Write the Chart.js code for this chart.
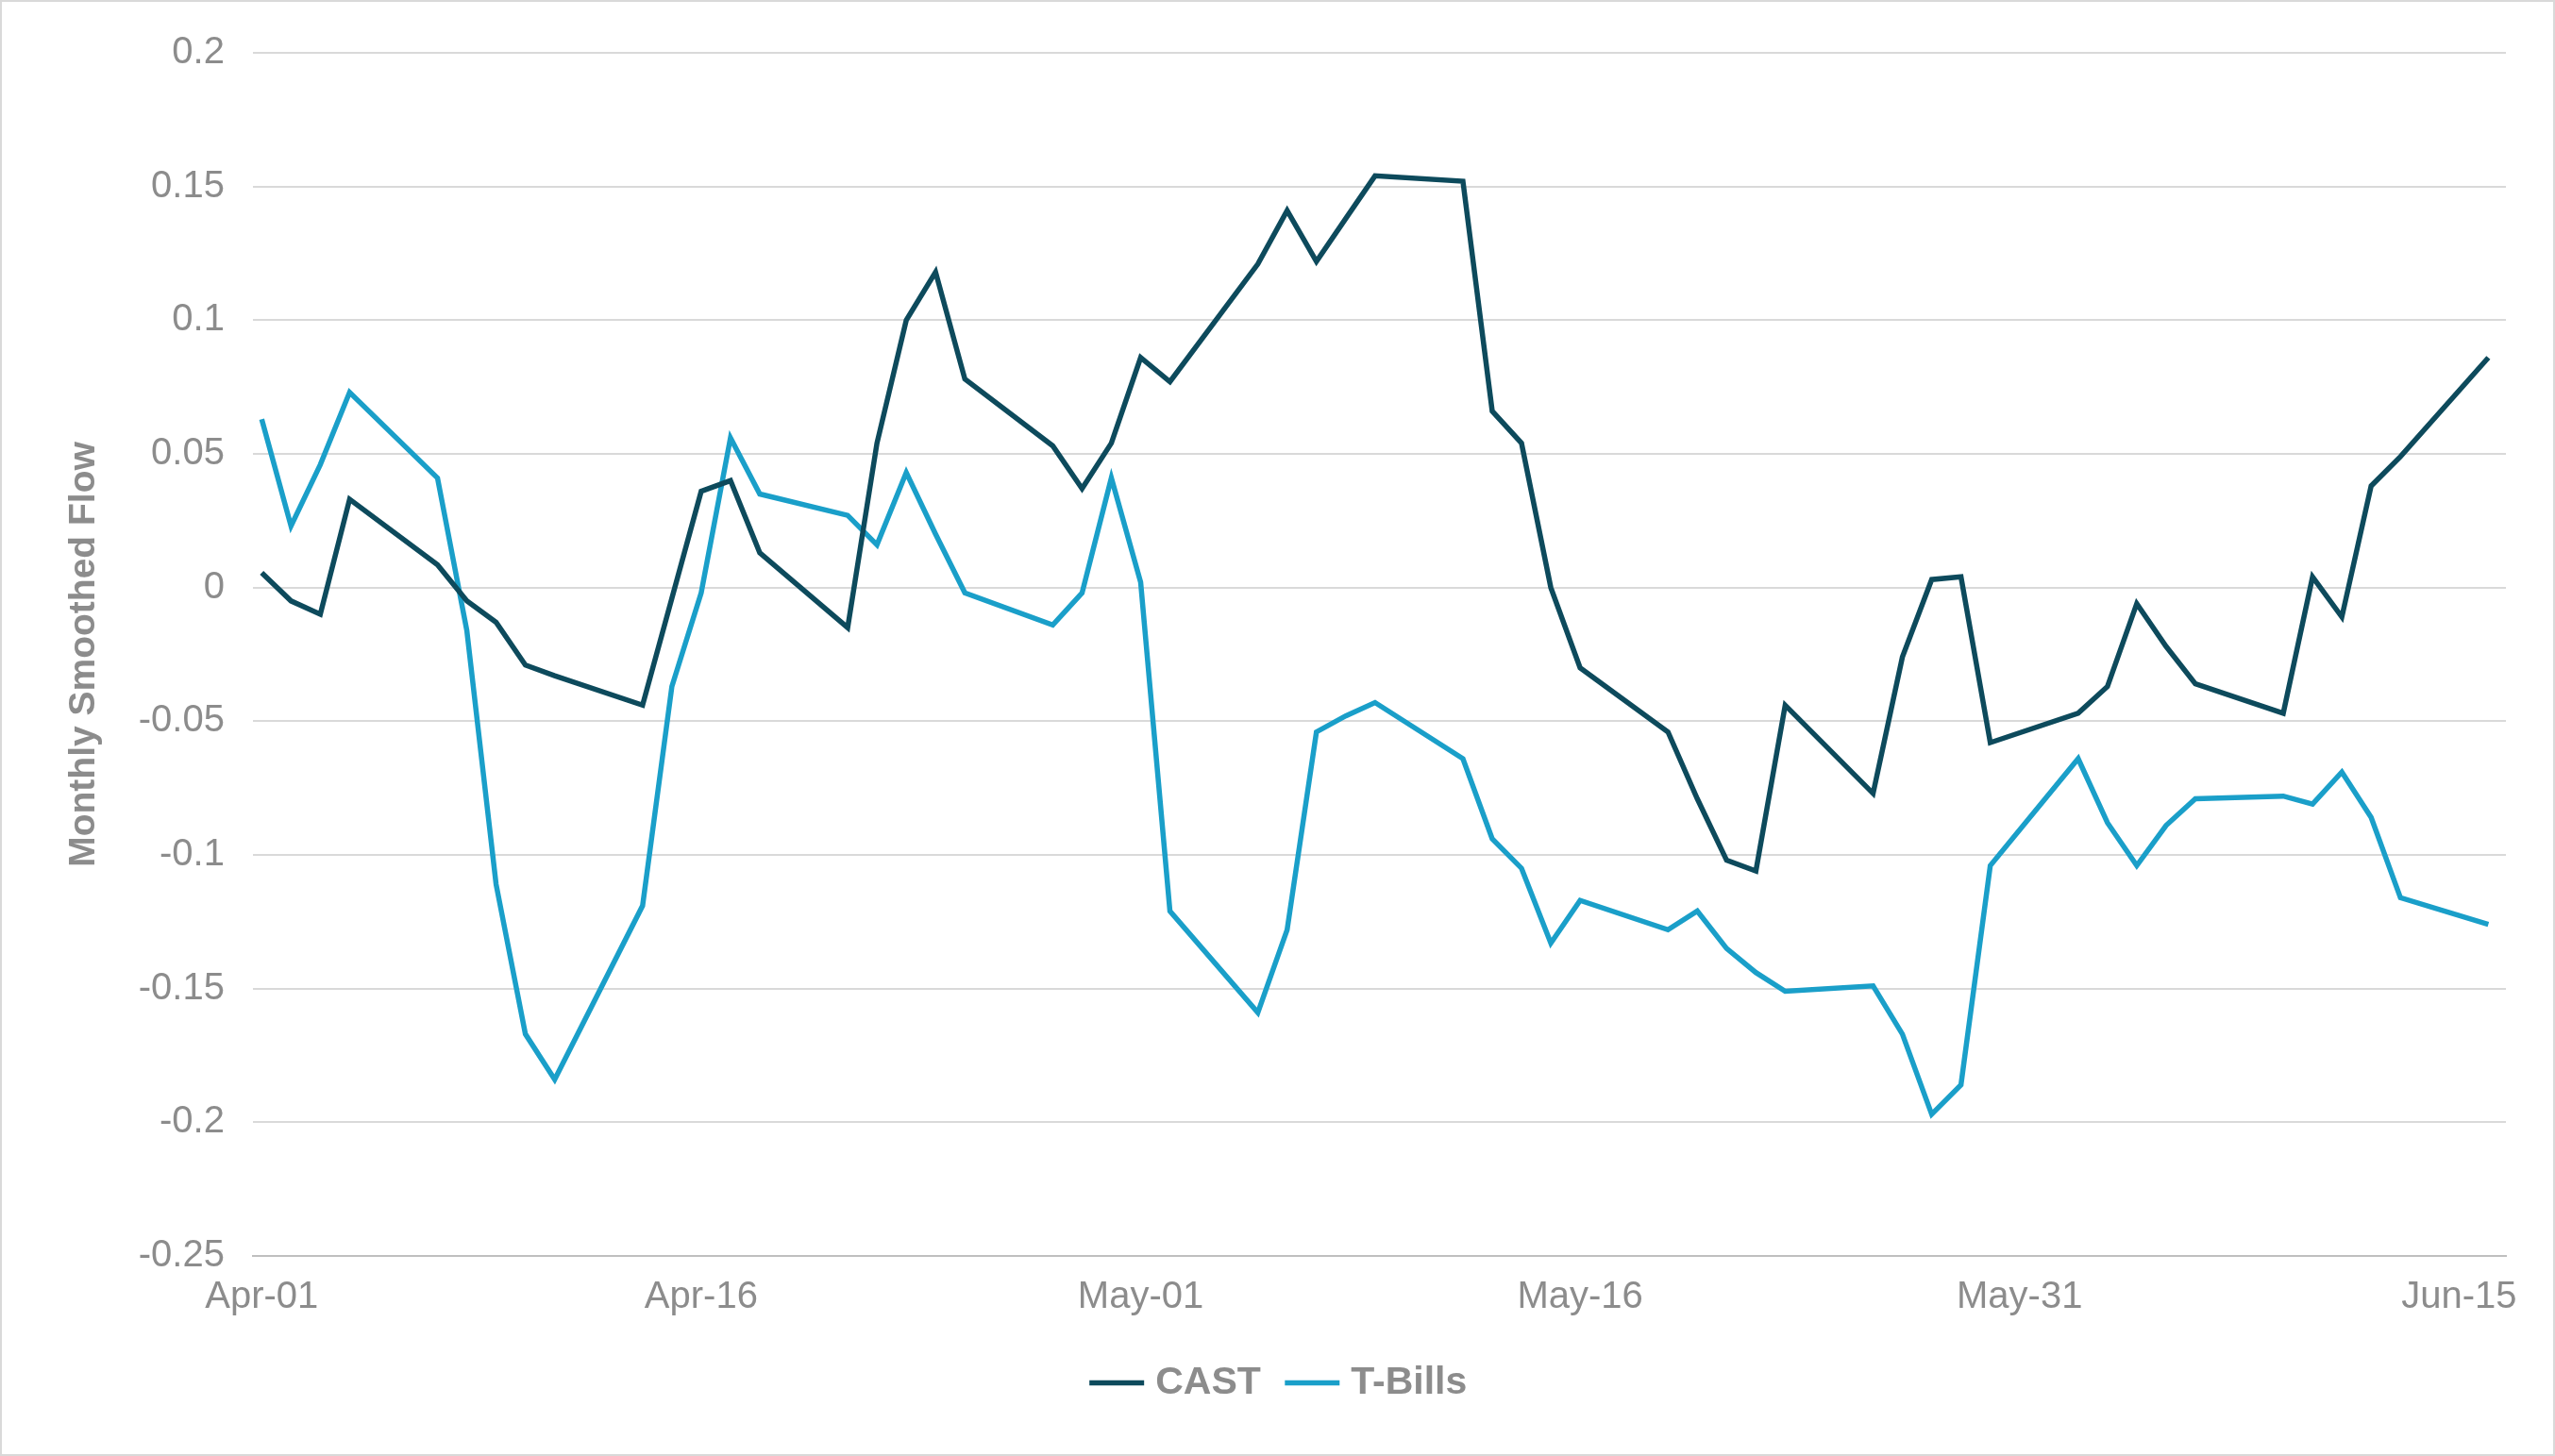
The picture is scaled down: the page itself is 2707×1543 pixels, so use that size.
<!DOCTYPE html>
<html><head><meta charset="utf-8">
<script src="https://cdn.jsdelivr.net/npm/chart.js@4"></script>
<style>html,body{margin:0;padding:0;background:#fff}#w{width:2707px;height:1543px;box-sizing:border-box;border:2px solid #d9d9d9}</style>
</head><body><div id="w"><canvas id="c"></canvas></div>
<script>
const days=[0,1,2,3,6,7,8,9,10,13,14,15,16,17,20,21,22,23,24,27,28,29,30,31,34,35,36,37,38,41,42,43,44,45,48,49,50,51,52,55,56,57,58,59,62,63,64,65,66,69,70,71,72,73,76];
const cast=[0.0055,-0.005,-0.010,0.033,0.0085,-0.005,-0.013,-0.029,-0.033,-0.044,-0.004,0.036,0.040,0.013,-0.015,0.054,0.100,0.118,0.078,0.053,0.037,0.054,0.086,0.077,0.121,0.141,0.122,0.138,0.154,0.152,0.066,0.054,0.0,-0.030,-0.054,-0.079,-0.102,-0.106,-0.044,-0.077,-0.026,0.003,0.004,-0.058,-0.047,-0.037,-0.006,-0.022,-0.036,-0.047,0.004,-0.011,0.038,0.049,0.086];
const tbills=[0.063,0.023,0.046,0.073,0.041,-0.016,-0.111,-0.167,-0.184,-0.119,-0.037,-0.002,0.056,0.035,0.027,0.016,0.043,0.020,-0.002,-0.014,-0.002,0.041,0.002,-0.121,-0.159,-0.128,-0.054,-0.048,-0.043,-0.064,-0.094,-0.105,-0.133,-0.117,-0.128,-0.121,-0.135,-0.144,-0.151,-0.149,-0.167,-0.197,-0.186,-0.104,-0.064,-0.088,-0.104,-0.089,-0.079,-0.078,-0.081,-0.069,-0.086,-0.116,-0.126];
const tickLabels={0:'Apr-01',15:'Apr-16',30:'May-01',45:'May-16',60:'May-31',75:'Jun-15'};
const gray='#8c8c8c';
new Chart(document.getElementById('c'),{type:'line',
data:{datasets:[
{label:'CAST',data:days.map((d,i)=>({x:d,y:cast[i]})),borderColor:'#0d4a5c',backgroundColor:'#0d4a5c',borderWidth:5.5,pointRadius:0,tension:0},
{label:'T-Bills',data:days.map((d,i)=>({x:d,y:tbills[i]})),borderColor:'#1a9fc9',backgroundColor:'#1a9fc9',borderWidth:5.5,pointRadius:0,tension:0}]},
options:{responsive:true,maintainAspectRatio:false,animation:false,
layout:{padding:{left:60,right:50,top:33,bottom:45}},
plugins:{legend:{position:'bottom',labels:{usePointStyle:true,pointStyle:'line',boxWidth:90,font:{size:41,weight:'bold',family:'Liberation Sans'},color:gray,padding:34}},tooltip:{enabled:false}},
scales:{
x:{type:'linear',min:-0.3,max:76.6,afterBuildTicks:a=>{a.ticks=[0,15,30,45,60,75].map(v=>({value:v}));},
ticks:{callback:v=>tickLabels[v]||'',font:{size:40,family:'Liberation Sans'},color:gray,padding:12,maxRotation:0},
grid:{display:false},border:{color:'#bfbfbf',width:2}},
y:{min:-0.25,max:0.2,ticks:{stepSize:0.05,callback:v=>Math.round(v*100)/100,font:{size:40,family:'Liberation Sans'},color:gray,padding:30},
grid:{color:'#d9d9d9',lineWidth:2,drawTicks:false},border:{display:false},
title:{display:true,text:'Monthly Smoothed Flow',font:{size:39,weight:'bold',family:'Liberation Sans'},color:gray}}}}});
</script></body></html>
